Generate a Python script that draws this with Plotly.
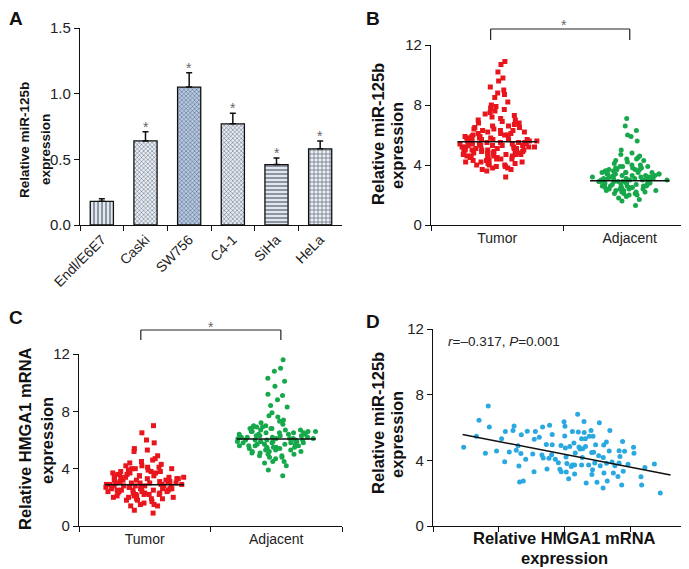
import plotly.graph_objects as go

# ---------------- data ----------------
# Panel A
cell_lines = ["Endl/E6E7", "Caski", "SW756", "C4-1", "SiHa", "HeLa"]
a_values = [0.18, 0.64, 1.05, 0.77, 0.46, 0.58]
a_errors = [0.02, 0.07, 0.11, 0.08, 0.05, 0.06]
a_signif = [False, True, True, True, True, True]
a_ticks = [0.0, 0.5, 1.0, 1.5]

# Panel B (miR-125b)
b_groups = ["Tumor", "Adjacent"]
b_tumor = [10.9, 10.7, 10.2, 9.8, 9.6, 9.2, 9.0, 8.8, 8.7, 8.5, 8.2, 8.0, 7.9, 7.8, 7.7, 7.6,
           7.5, 7.4, 7.3, 7.2, 7.1, 7.0, 7.0,
           6.9, 6.8, 6.8, 6.7, 6.6, 6.6, 6.5, 6.5, 6.4, 6.4, 6.3, 6.3, 6.3, 6.2, 6.2,
           6.1, 6.1, 6.1, 6.0, 6.0, 6.0,
           5.9, 5.9, 5.9, 5.8, 5.8, 5.8, 5.8, 5.7, 5.7, 5.7, 5.7, 5.6, 5.6, 5.6, 5.6,
           5.5, 5.5, 5.5, 5.5,
           5.4, 5.4, 5.4, 5.4, 5.4, 5.3, 5.3, 5.3, 5.3, 5.3, 5.2, 5.2, 5.2, 5.2, 5.2,
           5.1, 5.1, 5.1, 5.1, 5.0, 5.0, 5.0, 5.0, 5.0,
           4.9, 4.9, 4.9, 4.9, 4.8, 4.8, 4.8, 4.8, 4.8, 4.7, 4.7, 4.7, 4.7,
           4.6, 4.6, 4.6, 4.6, 4.5, 4.5, 4.5, 4.5,
           4.4, 4.4, 4.4, 4.3, 4.3, 4.3, 4.2, 4.2, 4.2, 4.1, 4.1, 4.0, 4.0, 4.0,
           3.9, 3.9, 3.8, 3.8, 3.7, 3.7, 3.6, 3.2]
b_adjacent = [7.1, 6.6, 6.3, 6.0, 5.9, 5.6, 5.0, 4.8, 4.7, 4.6, 4.5, 4.4, 4.4, 4.3, 4.3,
              4.2, 4.1, 4.0, 4.0, 3.9, 3.9, 3.9, 3.8, 3.8, 3.8, 3.7, 3.7, 3.7, 3.7,
              3.6, 3.6, 3.6, 3.6, 3.5, 3.5, 3.5, 3.5, 3.5, 3.4, 3.4, 3.4, 3.4, 3.4,
              3.3, 3.3, 3.3, 3.3, 3.3, 3.2, 3.2, 3.2, 3.2, 3.2, 3.2,
              3.1, 3.1, 3.1, 3.1, 3.1, 3.1, 3.0, 3.0, 3.0, 3.0, 3.0, 3.0,
              2.9, 2.9, 2.9, 2.9, 2.9, 2.9, 2.8, 2.8, 2.8, 2.8, 2.8, 2.8,
              2.7, 2.7, 2.7, 2.7, 2.7, 2.6, 2.6, 2.6, 2.6, 2.6, 2.5, 2.5, 2.5, 2.5, 2.5,
              2.4, 2.4, 2.4, 2.4, 2.3, 2.3, 2.3, 2.3, 2.2, 2.2, 2.2, 2.1, 2.1, 2.1,
              2.0, 2.0, 1.9, 1.8, 1.7, 1.6, 1.3]
b_means = [5.55, 2.95]

# Panel C (HMGA1 mRNA)
c_groups = ["Tumor", "Adjacent"]
c_tumor = [7.0, 6.5, 6.0, 5.8, 5.4, 5.3, 5.2, 4.9, 4.7, 4.6, 4.5, 4.4, 4.3, 4.2, 4.2,
           4.1, 4.1, 4.0, 4.0, 4.0, 3.9, 3.9, 3.8, 3.8, 3.8, 3.7, 3.7, 3.7,
           3.6, 3.6, 3.6, 3.5, 3.5, 3.5, 3.5, 3.4, 3.4, 3.4, 3.4, 3.3, 3.3, 3.3, 3.3,
           3.2, 3.2, 3.2, 3.2, 3.1, 3.1, 3.1, 3.1, 3.0, 3.0, 3.0, 3.0, 3.0,
           2.9, 2.9, 2.9, 2.9, 2.9, 2.8, 2.8, 2.8, 2.8, 2.8, 2.7, 2.7, 2.7, 2.7, 2.7,
           2.6, 2.6, 2.6, 2.6, 2.6, 2.5, 2.5, 2.5, 2.5, 2.5, 2.4, 2.4, 2.4, 2.4,
           2.3, 2.3, 2.3, 2.3, 2.2, 2.2, 2.2, 2.2, 2.1, 2.1, 2.1, 2.0, 2.0, 2.0,
           1.9, 1.9, 1.9, 1.8, 1.8, 1.7, 1.6, 1.5, 1.5, 1.4, 1.4, 1.1, 0.9]
c_adjacent = [11.6, 11.0, 10.8, 10.3, 10.1, 9.75, 9.2, 9.1, 8.8, 8.4, 8.3, 7.9, 7.7, 7.6,
              7.4, 7.3, 7.2, 7.1, 7.0, 7.0, 6.9, 6.9, 6.9, 6.8, 6.8, 6.8, 6.7, 6.7, 6.7,
              6.6, 6.6, 6.6, 6.6, 6.5, 6.5, 6.5, 6.5, 6.4, 6.4, 6.4, 6.4, 6.3, 6.3, 6.3, 6.3,
              6.2, 6.2, 6.2, 6.2, 6.1, 6.1, 6.1, 6.1, 6.1, 6.0, 6.0, 6.0, 6.0, 6.0,
              5.9, 5.9, 5.9, 5.9, 5.9, 5.8, 5.8, 5.8, 5.8, 5.7, 5.7, 5.7, 5.7,
              5.6, 5.6, 5.6, 5.6, 5.5, 5.5, 5.5, 5.5, 5.4, 5.4, 5.4, 5.3, 5.3, 5.3,
              5.2, 5.2, 5.2, 5.1, 5.1, 5.0, 5.0, 4.9, 4.9, 4.8, 4.8, 4.7, 4.5, 4.5,
              4.4, 4.2, 3.9, 3.5]
c_means = [2.88, 6.07]
group_ticks = [0, 4, 8, 12]

# Panel D (correlation)
d_hmga1 = [1.40, 1.98, 2.10, 2.52, 2.57, 2.39, 2.90, 3.13, 3.27, 3.30, 3.48, 3.65, 3.70, 3.80,
           3.88, 3.92, 3.95, 4.01, 4.03, 4.12, 4.23, 4.30, 4.55, 4.61, 4.62, 4.67, 4.85, 4.97,
           5.00, 5.03, 5.17, 5.20, 5.29, 5.32, 5.41, 5.44, 5.44, 5.58, 5.72, 5.79, 5.84, 5.85,
           5.98, 6.01, 6.02, 6.04, 6.07, 6.08, 6.11, 6.19, 6.24, 6.31, 6.36, 6.36, 6.43, 6.46,
           6.46, 6.49, 6.60, 6.63, 6.66, 6.71, 6.78, 6.78, 6.81, 6.83, 6.89, 6.90, 6.95, 6.96,
           6.99, 7.10, 7.13, 7.21, 7.24, 7.25, 7.28, 7.30, 7.33, 7.38, 7.42, 7.48, 7.56, 7.59,
           7.63, 7.76, 7.77, 7.79, 7.80, 7.91, 7.92, 7.95, 8.04, 8.07, 8.17, 8.23, 8.30, 8.44,
           8.49, 8.49, 8.53, 8.61, 8.65, 8.68, 8.74, 8.90, 9.15, 9.17, 9.49, 9.52, 9.67, 10.10,
           10.37]
d_mir125b = [4.79, 5.46, 6.44, 7.31, 6.03, 4.43, 4.57, 5.32, 3.92, 5.75, 4.51, 5.81, 6.09, 4.61,
             4.89, 3.65, 2.68, 4.41, 5.56, 2.74, 4.06, 5.77, 4.38, 3.31, 5.28, 5.75, 5.40, 4.32,
             6.03, 4.14, 4.97, 3.47, 4.12, 6.13, 4.34, 5.58, 4.95, 4.06, 3.86, 3.45, 4.91, 3.31,
             6.35, 5.48, 6.07, 4.75, 4.20, 3.29, 3.80, 2.88, 4.85, 3.63, 5.75, 3.72, 5.05, 3.17,
             3.72, 4.45, 6.80, 5.72, 4.81, 4.69, 5.32, 3.72, 4.18, 4.71, 6.37, 5.70, 5.32, 4.85,
             2.62, 3.72, 5.46, 5.81, 4.47, 3.13, 3.43, 5.46, 4.49, 3.84, 4.95, 2.66, 4.28, 6.29,
             3.67, 2.31, 4.18, 4.93, 3.23, 5.12, 3.82, 2.74, 4.57, 5.81, 3.90, 3.23, 3.67, 3.02,
             4.59, 3.84, 4.24, 2.50, 5.14, 3.33, 4.55, 3.76, 4.79, 4.43, 3.00, 2.50, 3.57, 3.78,
             2.01]
fit_slope = -0.260
fit_intercept = 5.93
fit_x_range = [1.35, 10.84]
d_ticks_x = [0, 3, 6, 9, 12]
stat_text = "<i>r</i>=\u20130.317, <i>P</i>=0.001"

# ---------------- styling ----------------
FONT = "Liberation Sans, Arial, sans-serif"
W, H = 689, 569
RED = "#e8161c"
GREEN = "#16a84a"
BLUE = "#2aa8e0"

bar_patterns = ["|", "x", "x", "x", "-", "+"]
bar_bg = ["#dfe8f6", "#e6eef9", "#b4cae8", "#e3ebf8", "#dde7f5", "#e6eef9"]
bar_fg = ["#90acd6", "#b3c7e7", "#7d9bcc", "#b6c9e8", "#95afd8", "#94aed8"]
bar_psize = [4, 3, 3, 3, 4, 4]


def px_x(p):
    return p / W


def px_y(p):
    return 1 - p / H


fig = go.Figure()

# Panel A bars
fig.add_trace(go.Bar(
    x=cell_lines, y=a_values, width=0.53,
    marker=dict(color=bar_bg, line=dict(color="#111", width=1.3),
                pattern=dict(shape=bar_patterns, fgcolor=bar_fg, fillmode="overlay",
                             fgopacity=1, size=bar_psize, solidity=0.25)),
    error_y=dict(type="data", symmetric=False, array=a_errors,
                 arrayminus=[0] * len(a_errors), color="#111", thickness=1.5, width=3),
    xaxis="x", yaxis="y", showlegend=False, hoverinfo="x+y"))

# Panel B and C swarms
def swarm(vals, group, color, symbol, xa, ya):
    fig.add_trace(go.Box(
        x=[group] * len(vals), y=vals, boxpoints="all", jitter=1, pointpos=0,
        width=0.6, fillcolor="rgba(0,0,0,0)", line=dict(width=0, color="rgba(0,0,0,0)"),
        marker=dict(color=color, symbol=symbol, size=5, line=dict(width=0)),
        xaxis=xa, yaxis=ya, showlegend=False, hoveron="points"))

swarm(b_tumor, b_groups[0], RED, "square", "x2", "y2")
swarm(b_adjacent, b_groups[1], GREEN, "circle", "x2", "y2")
swarm(c_tumor, c_groups[0], RED, "square", "x3", "y3")
swarm(c_adjacent, c_groups[1], GREEN, "circle", "x3", "y3")

# Panel D scatter + fit
fig.add_trace(go.Scatter(
    x=d_hmga1, y=d_mir125b, mode="markers",
    marker=dict(color=BLUE, size=5, line=dict(width=0)),
    xaxis="x4", yaxis="y4", showlegend=False))
fit_y = [fit_slope * v + fit_intercept for v in fit_x_range]
fig.add_trace(go.Scatter(
    x=fit_x_range, y=fit_y, mode="lines", line=dict(color="#111", width=1.5),
    xaxis="x4", yaxis="y4", showlegend=False, hoverinfo="skip"))

shapes = []
# mean lines
for i, m in enumerate(b_means):
    shapes.append(dict(type="line", xref="x2", yref="y2", x0=i - 0.3, x1=i + 0.3,
                       y0=m, y1=m, line=dict(color="#111", width=1.5)))
for i, m in enumerate(c_means):
    shapes.append(dict(type="line", xref="x3", yref="y3", x0=i - 0.3, x1=i + 0.3,
                       y0=m, y1=m, line=dict(color="#111", width=1.5)))

# significance brackets
def bracket(xref, x0, x1, ytop, ybot):
    lc = dict(color="#222", width=1.2)
    shapes.append(dict(type="line", xref=xref, yref="paper", x0=x0, x1=x1,
                       y0=px_y(ytop), y1=px_y(ytop), line=lc))
    shapes.append(dict(type="line", xref=xref, yref="paper", x0=x0, x1=x0,
                       y0=px_y(ytop), y1=px_y(ybot), line=lc))
    shapes.append(dict(type="line", xref=xref, yref="paper", x0=x1, x1=x1,
                       y0=px_y(ytop), y1=px_y(ybot), line=lc))

bracket("x2", -0.05, 1.0, 21, 32)
bracket("x3", -0.03, 1.035, 322, 332)

annotations = []
# stars in panel A
for name, v, e, s in zip(cell_lines, a_values, a_errors, a_signif):
    if s:
        annotations.append(dict(x=name, y=v + e, xref="x", yref="y", text="*",
                                showarrow=False, yanchor="middle", yshift=5,
                                font=dict(family=FONT, size=14, color="#666")))
annotations.append(dict(x=0.5, y=px_y(17), xref="x2", yref="paper", text="*",
                        showarrow=False, yanchor="middle",
                        font=dict(family=FONT, size=14, color="#666")))
annotations.append(dict(x=0.5, y=px_y(319), xref="x3", yref="paper", text="*",
                        showarrow=False, yanchor="middle",
                        font=dict(family=FONT, size=14, color="#666")))

# axis titles (one annotation per line)
def title_line(text, x, y, size, angle=-90):
    annotations.append(dict(x=px_x(x), y=px_y(y), xref="paper", yref="paper",
                            text="<b>" + text + "</b>", showarrow=False, textangle=angle,
                            xanchor="center", yanchor="middle",
                            font=dict(family=FONT, size=size, color="#111")))

title_line("Relative miR-125b", 16, 132, 13.5)
title_line("expression", 37, 142, 13.5)
title_line("Relative miR-125b", 370, 126, 16.5)
title_line("expression", 389, 138, 16.5)
title_line("Relative HMGA1 mRNA", 17, 431, 16.5)
title_line("expression", 39, 433, 16.5)
title_line("Relative miR-125b", 370, 415, 16.5)
title_line("expression", 389, 427, 16.5)
title_line("Relative HMGA1 mRNA", 556, 530, 16.5, angle=0)
title_line("expression", 556, 550, 16.5, angle=0)

# panel letters
for letter, x, y in [("A", 8, 11), ("B", 365, 11), ("C", 8, 309), ("D", 365, 313)]:
    annotations.append(dict(x=px_x(x), y=px_y(y), xref="paper", yref="paper",
                            text="<b>" + letter + "</b>", showarrow=False,
                            xanchor="center", yanchor="middle",
                            font=dict(family=FONT, size=19, color="#111")))

annotations.append(dict(x=px_x(438), y=px_y(333), xref="paper", yref="paper",
                        text=stat_text, showarrow=False, xanchor="left", yanchor="middle",
                        font=dict(family=FONT, size=13.5, color="#222")))

axis_common = dict(showline=True, linecolor="#111", linewidth=1.2, ticks="outside",
                   ticklen=5, tickwidth=1.2, tickcolor="#111", showgrid=False,
                   zeroline=False, automargin=False, fixedrange=True)
yfont = dict(family=FONT, size=15, color="#222")
xfont = dict(family=FONT, size=14, color="#222")

fig.update_layout(
    template="none",
    width=W, height=H, margin=dict(l=0, r=0, t=0, b=0),
    paper_bgcolor="white", plot_bgcolor="white", boxmode="overlay",
    shapes=shapes, annotations=annotations, bargap=0.47,
    xaxis=dict(**axis_common, domain=[px_x(72), px_x(334)], range=[-0.5, 5.5],
               type="category", tickson="boundaries", tickangle=-45, anchor="y",
               tickfont=xfont),
    yaxis=dict(**axis_common, domain=[px_y(217), px_y(20)], range=[0, 1.5],
               tickvals=a_ticks, tickformat=".1f", anchor="x", tickfont=yfont),
    xaxis2=dict(**axis_common, domain=[px_x(423), px_x(688)], range=[-0.5, 1.5],
                type="category", tickson="boundaries", anchor="y2", tickfont=xfont),
    yaxis2=dict(**axis_common, domain=[px_y(217), px_y(37)], range=[0, 12],
                tickvals=group_ticks, anchor="x2", tickfont=yfont),
    xaxis3=dict(**axis_common, domain=[px_x(71), px_x(334)], range=[-0.5, 1.5],
                type="category", tickson="boundaries", anchor="y3", tickfont=xfont),
    yaxis3=dict(**axis_common, domain=[px_y(518), px_y(346)], range=[0, 12],
                tickvals=group_ticks, anchor="x3", tickfont=yfont),
    xaxis4=dict(**axis_common, domain=[px_x(425), px_x(688)], range=[0, 12],
                tickvals=d_ticks_x, showticklabels=False, anchor="y4"),
    yaxis4=dict(**axis_common, domain=[px_y(518), px_y(321)], range=[0, 12],
                tickvals=group_ticks, anchor="x4", tickfont=yfont),
)

fig.write_html("out.html")
